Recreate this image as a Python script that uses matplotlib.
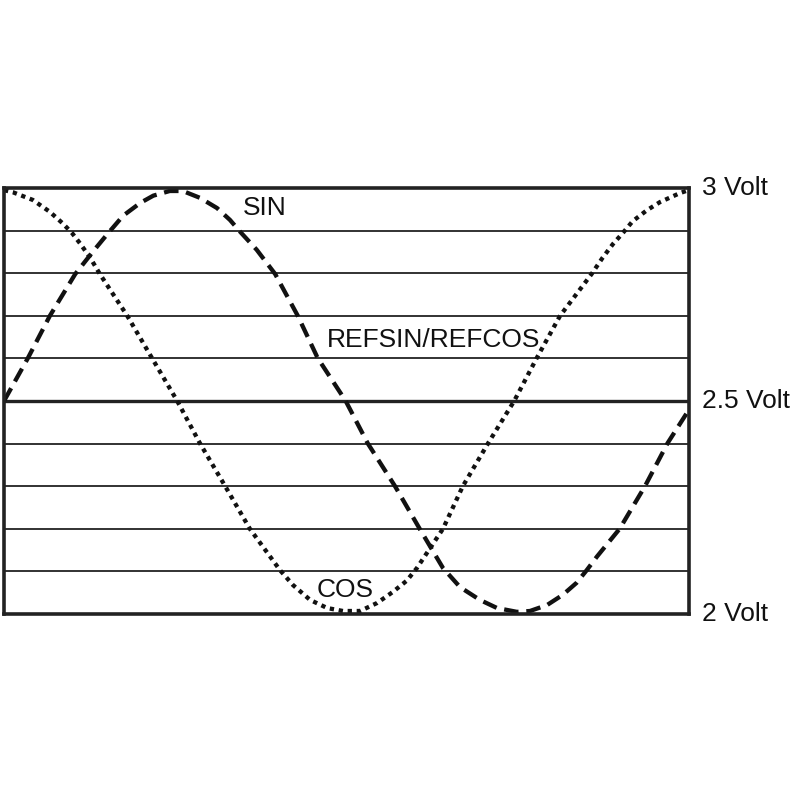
import matplotlib.pyplot as plt

# waveform samples (x = fraction of one period, volts)
sin_x = [0.000, 0.035, 0.067, 0.104, 0.130, 0.150, 0.174, 0.199, 0.218, 0.242, 0.261,
         0.286, 0.311, 0.330, 0.345, 0.369, 0.396, 0.429, 0.458, 0.499, 0.531,
         0.571, 0.607, 0.641, 0.666, 0.695, 0.720, 0.749, 0.768, 0.793, 0.816,
         0.836, 0.851, 0.866, 0.899, 0.936, 0.969, 1.000]
sin_v = [2.500, 2.601, 2.700, 2.798, 2.851, 2.890, 2.935, 2.965, 2.982, 2.993, 2.993,
         2.977, 2.953, 2.925, 2.897, 2.855, 2.798, 2.700, 2.601, 2.500, 2.401,
         2.300, 2.200, 2.108, 2.063, 2.033, 2.014, 2.005, 2.007, 2.021, 2.045,
         2.073, 2.103, 2.135, 2.200, 2.300, 2.401, 2.479]

cos_x = [0.000, 0.013, 0.042, 0.067, 0.085, 0.099, 0.111, 0.126, 0.140, 0.180, 0.216,
         0.253, 0.286, 0.323, 0.359, 0.403, 0.422, 0.447, 0.472, 0.495, 0.520,
         0.545, 0.568, 0.588, 0.603, 0.641, 0.670, 0.707, 0.745, 0.778, 0.812,
         0.858, 0.874, 0.889, 0.904, 0.918, 0.939, 0.958, 0.987, 0.996]
cos_v = [2.995, 2.990, 2.972, 2.944, 2.918, 2.895, 2.870, 2.836, 2.798, 2.700, 2.601,
         2.500, 2.401, 2.300, 2.200, 2.103, 2.068, 2.033, 2.014, 2.007, 2.007,
         2.026, 2.052, 2.078, 2.108, 2.200, 2.300, 2.401, 2.500, 2.601, 2.700,
         2.798, 2.836, 2.868, 2.895, 2.922, 2.948, 2.967, 2.988, 2.993]

grid_levels = [2.1, 2.2, 2.3, 2.4, 2.6, 2.7, 2.8, 2.9]
volt_labels = {3.0: "3 Volt", 2.5: "2.5 Volt", 2.0: "2 Volt"}

plt.rcParams['font.family'] = ['Liberation Sans', 'DejaVu Sans']

fig = plt.figure(figsize=(8, 8), dpi=100)
ax = fig.add_axes([0.005, 0.2325, 0.856, 0.5325])

for lvl in grid_levels:
    ax.axhline(lvl, color="#222222", lw=1.3, zorder=1)
ax.axhline(2.5, color="#222222", lw=2.4, zorder=1)

ax.plot(sin_x, sin_v, color="#111111", lw=3.1, linestyle=(0, (3.4, 1.8)),
        dash_capstyle="butt", solid_joinstyle="round", zorder=3)
ax.plot(cos_x, cos_v, color="#111111", lw=3.1, linestyle=(0, (1, 1.1)),
        dash_capstyle="butt", zorder=3)

ax.set_xlim(0, 1)
ax.set_ylim(2.0, 3.0)
ax.set_xticks([])
ax.set_yticks([])
for sp in ax.spines.values():
    sp.set_linewidth(2.6)
    sp.set_color("#222222")
    sp.set_zorder(4)

fs = 19
ax.text(0.349, 2.953, "SIN", fontsize=fs, va="center", ha="left", color="#111111")
ax.text(0.471, 2.643, "REFSIN/REFCOS", fontsize=fs, va="center", ha="left", color="#111111")
ax.text(0.457, 2.056, "COS", fontsize=fs, va="center", ha="left", color="#111111")
for v, lab in volt_labels.items():
    ax.text(1.020, v, lab, fontsize=fs, va="center", ha="left", color="#111111", clip_on=False)

fig.savefig("out.png", dpi=100)
